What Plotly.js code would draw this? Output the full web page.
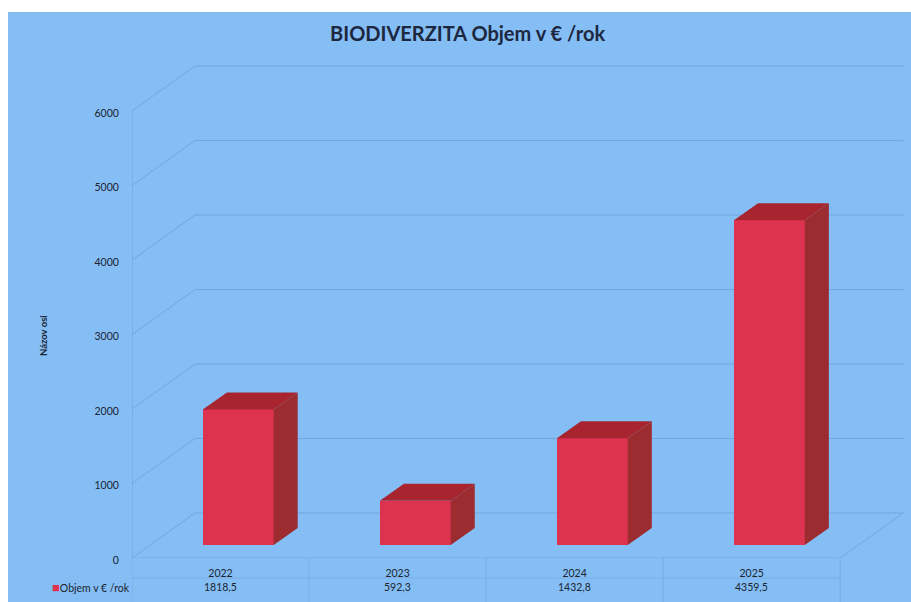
<!DOCTYPE html>
<html>
<head>
<meta charset="utf-8">
<script src="https://cdn.plot.ly/plotly-3.0.1.min.js"></script>
<style>
html,body{margin:0;padding:0;background:#fff;width:911px;height:602px;overflow:hidden}
#chart{position:absolute;left:8px;top:12px;width:903px;height:590px}
</style>
</head>
<body>
<div id="chart"></div>
<script>
const years = ['2022','2023','2024','2025'];
const yearIndex = [0,1,2,3];
const values = [1818.5,592.3,1432.8,4359.5];
const gridValues = [0,1000,2000,3000,4000,5000,6000];
const seriesName = 'Objem v € /rok';
const axisTitle = 'Názov osi';

const barBase = 175, barOffset = 0.1, barWidth = 0.4;
const barDx = 0.136, barDy = 228;
const wallDx = 0.356, wallDy = 604;
const xL = -0.5, xR = 3.5;
const gridColor = 'rgba(105,150,205,0.6)';
const font = 'Lato, Open Sans, sans-serif';
const textColor = '#1c2430';
const fmt = v => v.toFixed(1).replace('.',',');

const xc = yearIndex.map(i => i + barOffset);
const front = {
  type:'bar', x:xc, y:values, base:values.map(()=>barBase), width:barWidth,
  name:seriesName, showlegend:false, hoverinfo:'x+y',
  marker:{color:'#DD3350', line:{width:0}}
};
function quad(pts,color){
  return {type:'scatter',mode:'lines',x:pts.map(p=>p[0]),y:pts.map(p=>p[1]),fill:'toself',
    fillcolor:color,line:{width:0,color:color},showlegend:false,hoverinfo:'skip'};
}
const faces = [];
xc.forEach((c,i)=>{
  const l=c-barWidth/2, r=c+barWidth/2, t=barBase+values[i];
  faces.push(quad([[l,t],[l+barDx,t+barDy],[r+barDx,t+barDy],[r,t],[l,t]],'#A8242F'));
  faces.push(quad([[r,barBase],[r+barDx,barBase+barDy],[r+barDx,t+barDy],[r,t],[r,barBase]],'#9C2C30'));
});

const line = {color:gridColor,width:1};
const shapes = gridValues.map(v=>({
  type:'path',layer:'below',xref:'x',yref:'y',line:line,
  path:`M ${xL} ${v} L ${xL+wallDx} ${v+wallDy} L ${xR+wallDx} ${v+wallDy}`
}));
// front axis, floor and right wall edge
shapes.push({type:'path',layer:'below',xref:'x',yref:'y',line:line,
  path:`M ${xL} ${gridValues[gridValues.length-1]} L ${xL} 0 L ${xR} 0 L ${xR+wallDx} ${wallDy}`});
// data table rules
const tableLine = {color:'rgba(105,150,205,0.4)',width:1};
[-0.5,0.5,1.5,2.5,3.5].forEach(x=>shapes.push({type:'line',layer:'below',xref:'x',yref:'paper',
  x0:x,x1:x,y0:0,y1:-44/498,line:tableLine}));
shapes.push({type:'line',layer:'below',xref:'x',yref:'paper',x0:xL,x1:xR,y0:-20/498,y1:-20/498,line:tableLine});

const annotations = yearIndex.map(i=>({
  xref:'x',yref:'paper',x:i,y:-29/498,text:fmt(values[i]),showarrow:false,
  xanchor:'center',yanchor:'middle',font:{family:font,size:10.5,color:textColor}
}));
annotations.push({xref:'paper',yref:'paper',x:0,xanchor:'right',y:-29/498,yanchor:'middle',xshift:0,showarrow:false,
  text:'<span style="color:#DD3350;font-size:13px">■</span>'+seriesName,font:{family:font,size:10.5,color:textColor}});
annotations.push({xref:'paper',yref:'paper',x:-89/779,xanchor:'center',y:222/498,yanchor:'middle',showarrow:false,
  textangle:-90,text:'<b>'+axisTitle+'</b>',font:{family:font,size:9.5,color:textColor}});

const layout = {
  width:903,height:590,autosize:false,
  paper_bgcolor:'#85BEF5',plot_bgcolor:'rgba(0,0,0,0)',
  margin:{l:124,r:0,t:48,b:44,pad:0},
  showlegend:false,bargap:0,
  title:{text:'<b>BIODIVERZITA Objem v € /rok</b>',x:0.509,xanchor:'center',y:0.962,yanchor:'middle',
    font:{family:font,size:20,color:'#1d2840'}},
  xaxis:{type:'linear',range:[-0.5,3.9],tickmode:'array',tickvals:yearIndex,ticktext:years,
    showgrid:false,zeroline:false,showline:false,ticks:'outside',ticklen:5,tickcolor:'rgba(0,0,0,0)',
    tickfont:{family:font,size:10.5,color:textColor}},
  yaxis:{range:[0,6685],tickmode:'array',tickvals:gridValues,ticktext:gridValues.map(String),
    showgrid:false,zeroline:false,showline:false,ticks:'outside',ticklen:10,tickcolor:'rgba(0,0,0,0)',
    ticklabelshift:2,
    tickfont:{family:font,size:10.5,color:textColor}},
  shapes:shapes,annotations:annotations
};
Plotly.newPlot('chart',[front].concat(faces),layout,{displayModeBar:false,staticPlot:true});
</script>
</body>
</html>
